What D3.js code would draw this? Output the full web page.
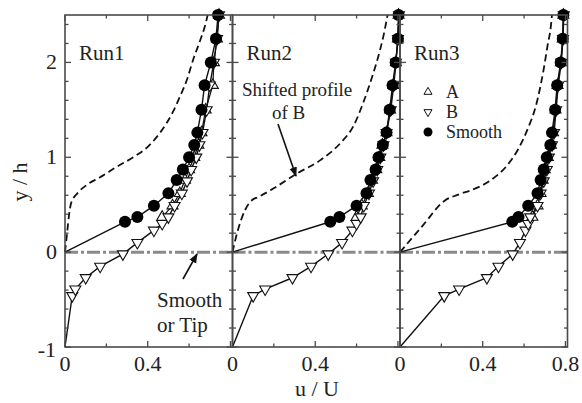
<!DOCTYPE html>
<html><head><meta charset="utf-8">
<script src="https://cdn.jsdelivr.net/npm/d3@7"></script>
<style>
@font-face{font-family:"RSerif";src:local("Liberation Serif"),local("LiberationSerif"),local("LiberationSerif-Regular"),local("Tinos"),local("Times New Roman");}
</style>
</head><body style="margin:0"><svg id="c" width="582" height="403"></svg>
<script>
// ---------- data ----------
const runs = ["Run1", "Run2", "Run3"];
const xTicksMajor = [0, 0.4, 0.8];
const xTicksMinor = [0.2, 0.6];
const yTickLabels = [-1, 0, 1, 2];

// heights of Smooth profile points (y/h)
const ySmooth = [0.32, 0.37, 0.49, 0.62, 0.76, 0.87, 1.0, 1.13, 1.26, 1.5, 1.76, 2.0, 2.25, 2.5];
const smoothRun1 = [0.29, 0.35, 0.43, 0.50, 0.54, 0.57, 0.60, 0.625, 0.64, 0.66, 0.675, 0.705, 0.73, 0.74];
const smoothRun2 = [0.473, 0.517, 0.60, 0.648, 0.667, 0.692, 0.706, 0.727, 0.745, 0.76, 0.774, 0.789, 0.80, 0.803];
const smoothRun3 = [0.543, 0.573, 0.62, 0.665, 0.68, 0.695, 0.71, 0.727, 0.735, 0.75, 0.76, 0.777, 0.787, 0.79];

// heights of A profile points
const yA = [0.37, 0.49, 0.62, 0.76, 0.87, 1.0, 1.13, 1.26, 1.5, 1.76, 2.0, 2.25, 2.5];
const aRun1 = [0.47, 0.52, 0.555, 0.58, 0.60, 0.625, 0.645, 0.66, 0.68, 0.715, 0.72, 0.735, 0.745];
const aRun2 = [0.60, 0.625, 0.655, 0.675, 0.695, 0.71, 0.725, 0.745, 0.762, 0.778, 0.79, 0.80, 0.803];
const aRun3 = [0.64, 0.665, 0.68, 0.69, 0.70, 0.715, 0.73, 0.74, 0.752, 0.762, 0.778, 0.787, 0.79];

// heights of B profile points
const yB = [-0.46, -0.39, -0.27, -0.15, -0.02, 0.1, 0.23, 0.3, 0.37, 0.49, 0.62, 0.75, 0.87, 1.0, 1.13, 1.26, 1.5, 1.76, 2.0, 2.25, 2.5];
const bRun1 = [0.035, 0.05, 0.10, 0.17, 0.28, 0.35, 0.43, 0.47, 0.50, 0.53, 0.565, 0.59, 0.61, 0.635, 0.65, 0.665, 0.685, 0.70, 0.72, 0.735, 0.745];
const bRun2 = [0.10, 0.158, 0.29, 0.38, 0.463, 0.53, 0.58, 0.60, 0.62, 0.635, 0.66, 0.68, 0.70, 0.715, 0.73, 0.745, 0.765, 0.78, 0.79, 0.80, 0.805];
const bRun3 = [0.214, 0.286, 0.42, 0.476, 0.545, 0.58, 0.607, 0.62, 0.63, 0.665, 0.68, 0.695, 0.71, 0.72, 0.735, 0.745, 0.755, 0.765, 0.78, 0.788, 0.792];

// shifted profile of B (dashed)
const shiftRun1U = [0, 0.01, 0.02, 0.03, 0.06, 0.106, 0.17, 0.25, 0.33, 0.40, 0.46, 0.52, 0.556, 0.59, 0.62, 0.65, 0.68, 0.69];
const shiftRun1Y = [0, 0.2, 0.4, 0.52, 0.62, 0.71, 0.79, 0.90, 1.0, 1.11, 1.26, 1.47, 1.64, 1.82, 2.03, 2.21, 2.41, 2.5];
const shiftRun2U = [0, 0.022, 0.06, 0.095, 0.124, 0.197, 0.313, 0.425, 0.522, 0.585, 0.633, 0.677, 0.706, 0.73, 0.75];
const shiftRun2Y = [0, 0.2, 0.44, 0.55, 0.58, 0.67, 0.83, 0.97, 1.15, 1.33, 1.58, 1.86, 2.07, 2.28, 2.5];
const shiftRun3U = [0, 0.11, 0.214, 0.286, 0.34, 0.44, 0.52, 0.57, 0.61, 0.665, 0.695, 0.713, 0.73, 0.735];
const shiftRun3Y = [0, 0.28, 0.54, 0.61, 0.65, 0.76, 0.92, 1.08, 1.26, 1.61, 1.93, 2.17, 2.39, 2.5];

const smoothAll = [smoothRun1, smoothRun2, smoothRun3];
const aAll = [aRun1, aRun2, aRun3];
const bAll = [bRun1, bRun2, bRun3];
const shiftAll = [[shiftRun1U, shiftRun1Y], [shiftRun2U, shiftRun2Y], [shiftRun3U, shiftRun3Y]];

// ---------- layout ----------
const FONT = "'Liberation Serif', Tinos, 'Times New Roman', RSerif, 'DejaVu Serif', serif";
const svg = d3.select("#c");
const panelLeft = [65, 232.5, 400];
const panelW = 167.5, topY = 15, bottomY = 347;
const y = d3.scaleLinear().domain([-1, 2.5]).range([bottomY, topY]);
const axisCol = "#4a4a4a";
function T(parent, size) {
  return parent.append("text").style("font-family", FONT).attr("font-size", size).attr("fill", "#222");
}

const tri = d3.symbol().type(d3.symbolTriangle).size(52);

runs.forEach((run, i) => {
  const x = d3.scaleLinear().domain([0, 0.81]).range([panelLeft[i], panelLeft[i] + panelW]);
  const g = svg.append("g");
  const line = d3.line().x(d => x(d[0])).y(d => y(d[1]));

  // zero line (Smooth or Tip)
  g.append("line").attr("x1", x(0)).attr("x2", x(0.81)).attr("y1", y(0)).attr("y2", y(0))
    .attr("stroke", "#8a8a8a").attr("stroke-width", 3).attr("stroke-dasharray", "13,3,3,3");

  // dashed shifted profile
  const sh = shiftAll[i][0].map((u, k) => [u, shiftAll[i][1][k]]);
  g.append("path").datum(sh).attr("d", line.curve(d3.curveMonotoneX))
    .attr("fill", "none").attr("stroke", "#111").attr("stroke-width", 1.8).attr("stroke-dasharray", "7,4");
  line.curve(d3.curveLinear);

  const sm = smoothAll[i].map((u, k) => [u, ySmooth[k]]);
  const aa = aAll[i].map((u, k) => [u, yA[k]]);
  const bb = bAll[i].map((u, k) => [u, yB[k]]);

  g.append("path").datum([[0, 0]].concat(sm)).attr("d", line).attr("fill", "none").attr("stroke", "#111").attr("stroke-width", 1.4);
  g.append("path").datum(aa).attr("d", line).attr("fill", "none").attr("stroke", "#111").attr("stroke-width", 1.2);
  g.append("path").datum([[0, -1]].concat(bb)).attr("d", line).attr("fill", "none").attr("stroke", "#111").attr("stroke-width", 1.4);

  g.selectAll(".a").data(aa).enter().append("path")
    .attr("d", tri).attr("transform", d => `translate(${x(d[0])},${y(d[1])})`)
    .attr("fill", "#fff").attr("stroke", "#111").attr("stroke-width", 1.1);
  g.selectAll(".b").data(bb).enter().append("path")
    .attr("d", tri).attr("transform", d => `translate(${x(d[0])},${y(d[1])}) rotate(180)`)
    .attr("fill", "#fff").attr("stroke", "#111").attr("stroke-width", 1.1);
  g.selectAll(".s").data(sm).enter().append("circle")
    .attr("cx", d => x(d[0])).attr("cy", d => y(d[1])).attr("r", 6).attr("fill", "#000");

  // frame
  g.append("rect").attr("x", x(0)).attr("y", topY).attr("width", panelW).attr("height", bottomY - topY)
    .attr("fill", "none").attr("stroke", axisCol).attr("stroke-width", 1.6);

  // x ticks (inward, top and bottom)
  const xt = xTicksMajor.map(v => [v, 6]).concat(xTicksMinor.map(v => [v, 3.5]));
  xt.forEach(([v, L]) => {
    if (x(v) > panelLeft[i] + panelW) return;
    g.append("line").attr("x1", x(v)).attr("x2", x(v)).attr("y1", bottomY).attr("y2", bottomY - L).attr("stroke", axisCol).attr("stroke-width", 1.3);
    g.append("line").attr("x1", x(v)).attr("x2", x(v)).attr("y1", topY).attr("y2", topY + L).attr("stroke", axisCol).attr("stroke-width", 1.3);
  });
  // y ticks (inward, left and right)
  d3.range(-1, 2.51, 0.2).forEach(v => {
    const major = Math.abs(v - Math.round(v)) < 1e-6;
    const L = major ? 6 : 3.5;
    g.append("line").attr("x1", x(0)).attr("x2", x(0) + L).attr("y1", y(v)).attr("y2", y(v)).attr("stroke", axisCol).attr("stroke-width", 1.3);
    g.append("line").attr("x1", x(0) + panelW).attr("x2", x(0) + panelW - L).attr("y1", y(v)).attr("y2", y(v)).attr("stroke", axisCol).attr("stroke-width", 1.3);
  });

  // x tick labels
  xTicksMajor.forEach(v => {
    if (i < 2 && v > 0.5) return;
    T(g, 22).attr("x", x(v)).attr("y", 371).attr("text-anchor", "middle").text(v === 0 ? "0" : v.toFixed(1));
  });

  T(g, 21).attr("x", x(0) + 14).attr("y", 60).text(run);
});

// y tick labels
yTickLabels.forEach(v => {
  T(svg, 22).attr("x", v < 0 ? 56 : 57).attr("y", y(v) + 7 + (v < 0 ? 3 : 0)).attr("text-anchor", "end").text(v);
});

// axis titles
T(svg, 22).attr("transform", "translate(27,182) rotate(-90)").attr("text-anchor", "middle").text("y / h");
T(svg, 22).attr("x", 317).attr("y", 396).attr("text-anchor", "middle").text("u / U");

// legend in Run3
const legX = 428, legY = [92, 112, 132];
const legTri = d3.symbol().type(d3.symbolTriangle).size(28);
svg.append("path").attr("d", legTri).attr("transform", `translate(${legX},${legY[0]})`).attr("fill", "#fff").attr("stroke", "#111");
svg.append("path").attr("d", legTri).attr("transform", `translate(${legX},${legY[1]}) rotate(180)`).attr("fill", "#fff").attr("stroke", "#111");
svg.append("circle").attr("cx", legX).attr("cy", legY[2]).attr("r", 4.5).attr("fill", "#000");
["A", "B", "Smooth"].forEach((t, k) => {
  T(svg, 18).attr("x", 446).attr("y", legY[k] + 6).text(t);
});

// annotations
const defs = svg.append("defs");
defs.append("marker").attr("id", "ah").attr("viewBox", "0 0 10 10").attr("refX", 9).attr("refY", 5)
  .attr("markerWidth", 6).attr("markerHeight", 6).attr("orient", "auto")
  .append("path").attr("d", "M0,1 L10,5 L0,9 Z").attr("fill", "#111");

T(svg, 19).attr("x", 242).attr("y", 96).text("Shifted profile");
T(svg, 19).attr("x", 272).attr("y", 119).text("of B");
svg.append("line").attr("x1", 278).attr("y1", 124).attr("x2", 296).attr("y2", 176).attr("stroke", "#111").attr("stroke-width", 1.6).attr("marker-end", "url(#ah)");

T(svg, 21).attr("x", 157).attr("y", 307).text("Smooth");
T(svg, 21).attr("x", 157).attr("y", 332).text("or Tip");
svg.append("line").attr("x1", 183).attr("y1", 279).attr("x2", 197).attr("y2", 254).attr("stroke", "#111").attr("stroke-width", 1.6).attr("marker-end", "url(#ah)");
</script></body></html>
